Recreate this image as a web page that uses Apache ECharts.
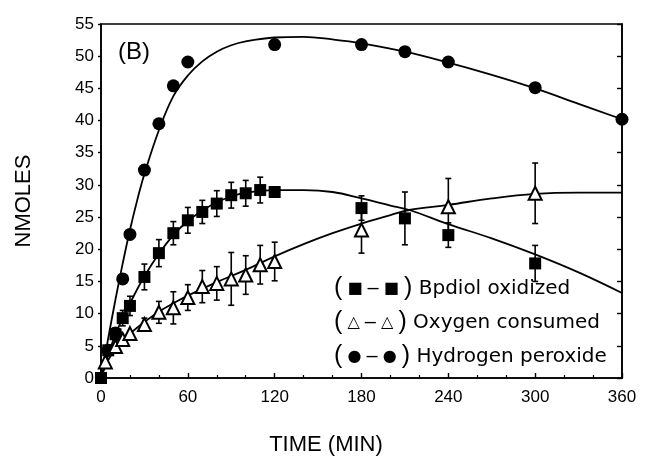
<!DOCTYPE html>
<html>
<head>
<meta charset="utf-8">
<script src="https://cdn.jsdelivr.net/npm/echarts@6/dist/echarts.min.js"></script>
<style>
html,body{margin:0;padding:0;background:#fff;}
#chart{width:651px;height:474px;}
</style>
</head>
<body>
<div id="chart"></div>
<script>
// ---- data ----
const xTicks = [0, 60, 120, 180, 240, 300, 360];
const yTicks = [0, 5, 10, 15, 20, 25, 30, 35, 40, 45, 50, 55];

// Bpdiol oxidized (filled squares)
const bpTime = [0, 5, 10, 15, 20, 30, 40, 50, 60, 70, 80, 90, 100, 110, 120, 180, 210, 240, 300];
const bpVal  = [0, 4.3, 6.8, 9.3, 11.2, 15.7, 19.4, 22.5, 24.5, 25.8, 27.1, 28.4, 28.7, 29.2, 28.9, 26.4, 24.8, 22.2, 17.8];
const bpErr  = [0, 0.8, 1.0, 1.2, 1.5, 2.0, 2.1, 1.8, 2.0, 1.8, 2.0, 2.0, 2.0, 2.0, 0, 1.9, 4.1, 1.9, 2.8];

// Oxygen consumed (open triangles)
const oxTime = [3, 10, 15, 20, 30, 40, 50, 60, 70, 80, 90, 100, 110, 120, 180, 240, 300];
const oxVal  = [2.5, 4.9, 6.0, 6.9, 8.3, 10.2, 10.9, 12.5, 14.2, 14.7, 15.4, 16.0, 17.6, 18.1, 23.0, 26.6, 28.7];
const oxErr  = [0, 0, 0, 0, 1.0, 1.7, 2.5, 2.0, 2.5, 2.6, 4.1, 3.0, 3.0, 3.0, 3.6, 4.4, 4.7];

// Hydrogen peroxide (filled circles)
const hpTime = [5, 10, 15, 20, 30, 40, 50, 60, 120, 180, 210, 240, 300, 360];
const hpVal  = [4.3, 7.0, 15.4, 22.3, 32.3, 39.5, 45.4, 49.1, 51.8, 51.8, 50.7, 49.1, 45.1, 40.2];

// fitted curves
const bpCurveT = [0, 5, 10, 15, 20, 30, 40, 50, 60, 70, 80, 90, 100, 120, 140, 160, 180, 200, 213, 240, 270, 300, 330, 360];
const bpCurveV = [0, 3.6, 6.8, 9.3, 11.6, 15.8, 19.3, 22.2, 24.4, 26.0, 27.3, 28.2, 28.8, 29.2, 29.2, 28.9, 27.9, 26.8, 26.1, 23.9, 21.7, 19.2, 16.4, 13.2];
const oxCurveT = [0, 5, 10, 15, 20, 30, 40, 50, 60, 80, 100, 120, 140, 160, 180, 200, 213, 240, 270, 300, 330, 360];
const oxCurveV = [0, 2.8, 4.5, 5.8, 6.9, 8.7, 10.3, 11.6, 12.8, 14.9, 16.8, 18.9, 20.8, 22.5, 24.0, 25.3, 26.1, 26.9, 27.9, 28.6, 28.8, 28.8];
const hpCurveT = [0, 5, 10, 15, 20, 25, 30, 40, 50, 60, 70, 80, 90, 100, 120, 140, 160, 180, 210, 240, 270, 300, 330, 360];
const hpCurveV = [0, 6.2, 12.2, 17.8, 23.0, 27.6, 31.7, 38.5, 43.8, 47.0, 49.2, 50.7, 51.7, 52.3, 52.9, 53.0, 52.6, 52.0, 50.7, 49.0, 47.1, 45.0, 42.6, 40.2];

const names = ['Bpdiol oxidized', 'Oxygen consumed', 'Hydrogen peroxide'];
const legendMarks = { 'Bpdiol oxidized': '■', 'Oxygen consumed': '△', 'Hydrogen peroxide': '●' };

const zip = (a, b) => a.map((v, i) => [v, b[i]]);
const errData = (t, v, e) => t.map((x, i) => [x, v[i] - e[i], v[i] + e[i]]).filter((d, i) => e[i] > 0);

function errorBarRender(params, api) {
  const x = api.value(0);
  const lo = api.coord([x, api.value(1)]);
  const hi = api.coord([x, api.value(2)]);
  const cw = 3;
  const st = { stroke: '#000', lineWidth: 1.6 };
  return {
    type: 'group',
    children: [
      { type: 'line', shape: { x1: lo[0], y1: lo[1], x2: hi[0], y2: hi[1] }, style: st },
      { type: 'line', shape: { x1: hi[0] - cw, y1: hi[1], x2: hi[0] + cw, y2: hi[1] }, style: st },
      { type: 'line', shape: { x1: lo[0] - cw, y1: lo[1], x2: lo[0] + cw, y2: lo[1] }, style: st }
    ]
  };
}

const font = 'Liberation Sans, Arial, Helvetica, sans-serif';
const chart = echarts.init(document.getElementById('chart'), null, { renderer: 'canvas' });

const curveStyle = { color: '#000', width: 1.8 };

chart.setOption({
  animation: false,
  backgroundColor: '#fff',
  grid: { left: 101, top: 24, width: 521, height: 354, show: true, borderColor: '#000', borderWidth: 1.6, backgroundColor: 'transparent' },
  title: {
    text: '(B)', left: 113, top: 35,
    textStyle: { fontFamily: font, fontSize: 24, fontWeight: 'normal', color: '#000' }
  },
  legend: {
    data: names,
    orient: 'vertical',
    left: 324, top: 271,
    icon: 'none', itemWidth: 0, itemHeight: 0, itemGap: 9,
    selectedMode: false,
    formatter: function (name) {
      const m = legendMarks[name];
      return '{p|(}{s| ' + m + ' }{d|–}{s| ' + m + ' }{p|)}{t| ' + name + '}';
    },
    textStyle: {
      color: '#000',
      rich: {
        p: { fontFamily: font, fontSize: 25, color: '#000' },
        s: { fontFamily: 'DejaVu Sans', fontSize: 16, color: '#000' },
        d: { fontFamily: font, fontSize: 20, color: '#000' },
        t: { fontFamily: 'DejaVu Sans', fontSize: 20, color: '#000' }
      }
    }
  },
  xAxis: {
    type: 'value', min: 0, max: 360, interval: 60,
    name: 'TIME (MIN)', nameLocation: 'middle', nameGap: 56,
    nameTextStyle: { fontFamily: font, fontSize: 22, color: '#000', padding: [0, 71, 0, 0] },
    axisLine: { show: true, lineStyle: { color: '#000', width: 1.6 } },
    axisTick: { show: true, inside: true, length: 5, lineStyle: { color: '#000', width: 1.4 } },
    minorTick: { show: true, splitNumber: 3, length: 3, lineStyle: { color: '#000', width: 1.2 } },
    axisLabel: { fontFamily: font, fontSize: 17, color: '#000', margin: 11,
      formatter: v => (xTicks.indexOf(v) >= 0 ? String(v) : '') },
    splitLine: { show: false }
  },
  yAxis: [{
    type: 'value', min: 0, max: 55, interval: 5,
    name: 'NMOLES', nameLocation: 'middle', nameGap: 66, nameRotate: 90,
    nameTextStyle: { fontFamily: font, fontSize: 22, color: '#000' },
    axisLine: { show: true, lineStyle: { color: '#000', width: 1.6 } },
    axisTick: { show: true, inside: false, length: 3, lineStyle: { color: '#000', width: 1.4 } },
    axisLabel: { fontFamily: font, fontSize: 17, color: '#000', margin: 7,
      formatter: v => (yTicks.indexOf(v) >= 0 ? String(v) : '') },
    splitLine: { show: false }
  }, {
    type: 'value', min: 0, max: 55, interval: 5, position: 'right',
    axisLine: { show: true, lineStyle: { color: '#000', width: 1.6 } },
    axisTick: { show: true, inside: true, length: 5, lineStyle: { color: '#000', width: 1.4 } },
    axisLabel: { show: false },
    splitLine: { show: false }
  }],
  series: [
    { type: 'line', data: zip(hpCurveT, hpCurveV), smooth: 0.4, symbol: 'none', lineStyle: curveStyle, z: 2, silent: true },
    { type: 'line', data: zip(bpCurveT, bpCurveV), smooth: 0.4, symbol: 'none', lineStyle: curveStyle, z: 2, silent: true },
    { type: 'line', data: zip(oxCurveT, oxCurveV), smooth: 0.4, symbol: 'none', lineStyle: curveStyle, z: 2, silent: true },
    { type: 'custom', data: errData(bpTime, bpVal, bpErr), renderItem: errorBarRender, z: 3, silent: true },
    { type: 'custom', data: errData(oxTime, oxVal, oxErr), renderItem: errorBarRender, z: 3, silent: true },
    { name: 'Hydrogen peroxide', type: 'scatter', data: zip(hpTime, hpVal), symbol: 'circle', symbolSize: 13,
      itemStyle: { color: '#000', opacity: 1 }, z: 5 },
    { name: 'Bpdiol oxidized', type: 'scatter', data: zip(bpTime, bpVal), symbol: 'rect', symbolSize: 12,
      itemStyle: { color: '#000', opacity: 1 }, z: 5 },
    { name: 'Oxygen consumed', type: 'scatter', data: zip(oxTime, oxVal), symbol: 'triangle', symbolSize: 13,
      itemStyle: { color: '#fff', borderColor: '#000', borderWidth: 2, opacity: 1 }, z: 6 }
  ]
});
</script>
</body>
</html>
